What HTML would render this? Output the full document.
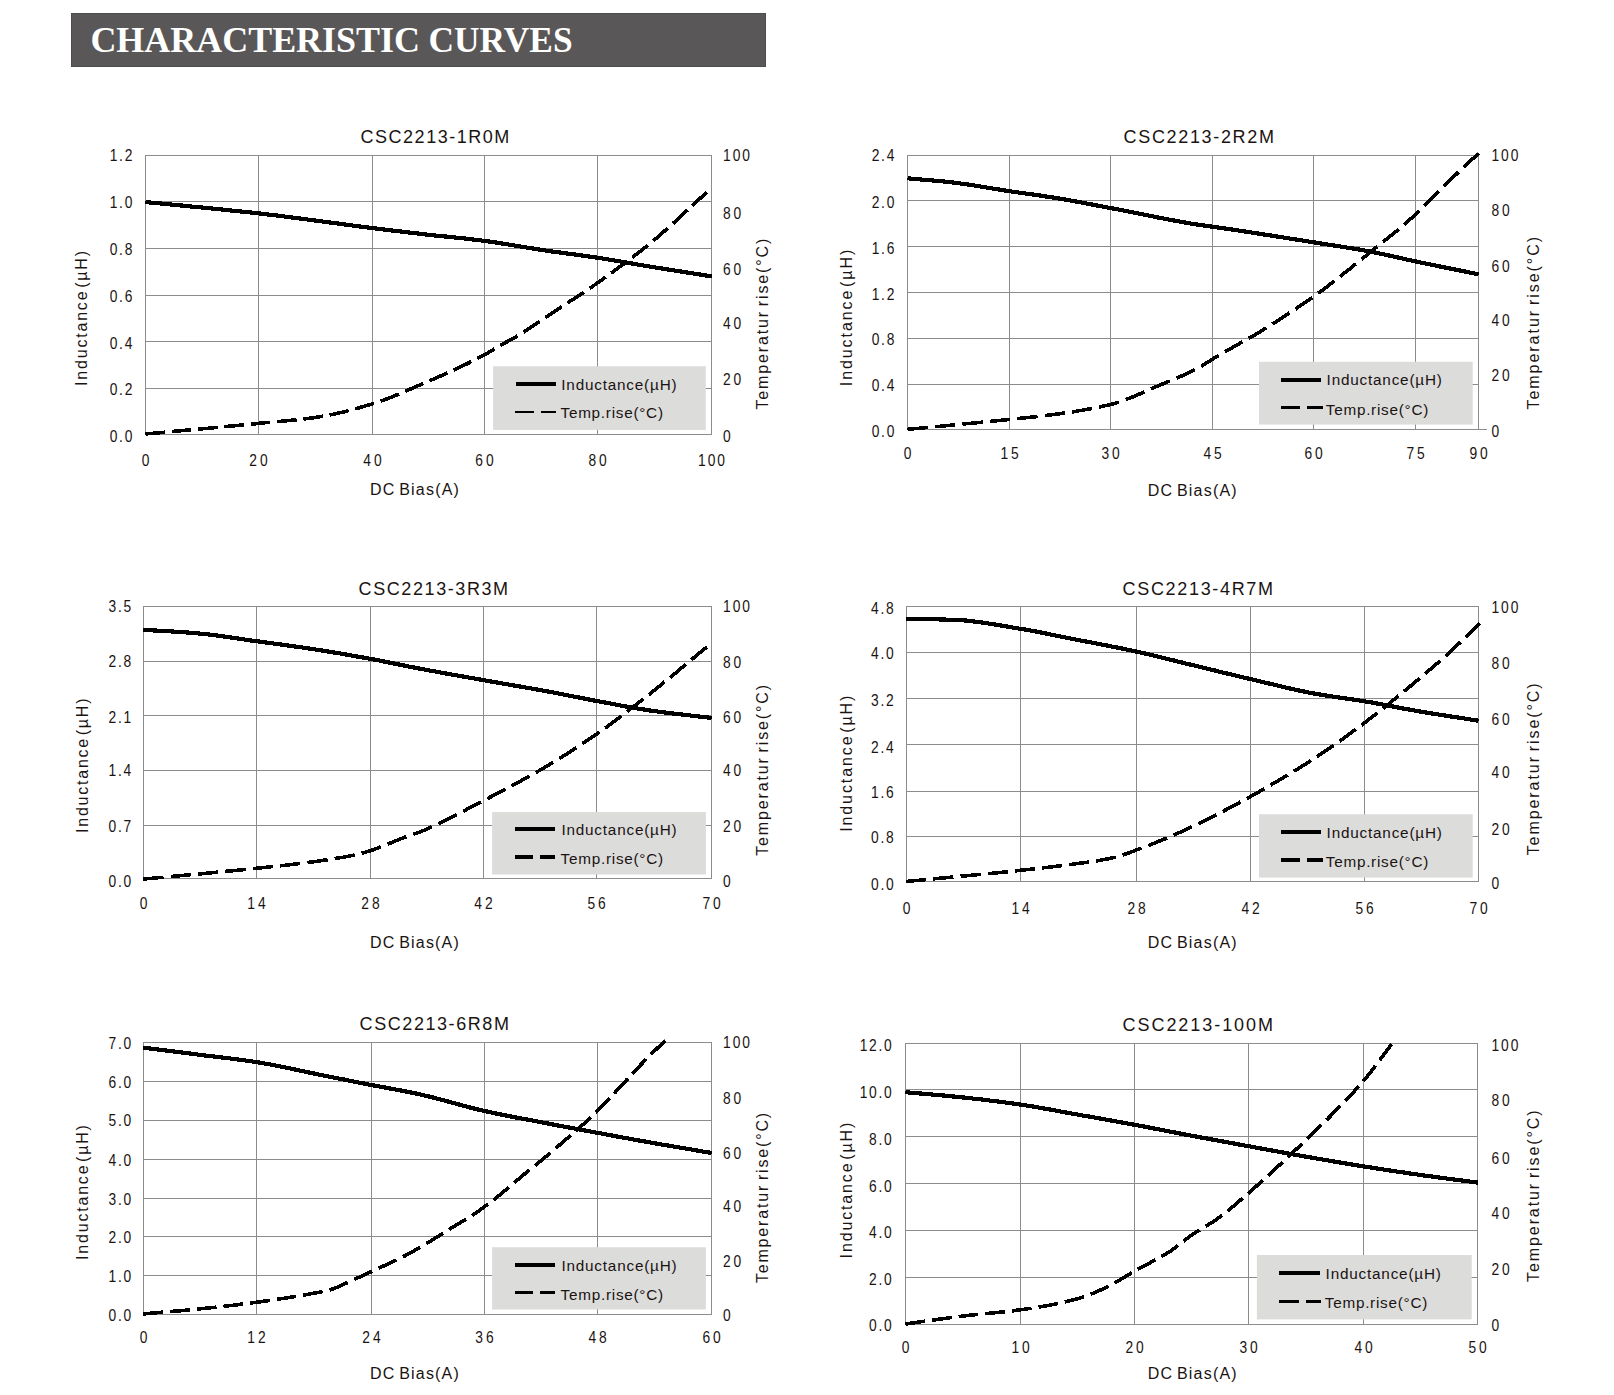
<!DOCTYPE html>
<html><head><meta charset="utf-8"><title>Characteristic Curves</title>
<style>
html,body{margin:0;padding:0;background:#fff;}
body{width:1614px;height:1395px;overflow:hidden;}
svg{display:block;}
text{font-family:"Liberation Sans",sans-serif;fill:#1a1311;}
.tk{font-size:15.7px;}
.ax{font-size:16px;}
.ti{font-size:18px;}
.lg{font-size:15.3px;}
.g{stroke:#8c8c8c;stroke-width:1;shape-rendering:crispEdges;fill:none;}
.s{stroke:#000;fill:none;stroke-linejoin:round;shape-rendering:crispEdges;}
.hd{font-family:"Liberation Serif",serif;font-weight:bold;font-size:35.5px;fill:#fff;}
</style></head><body>
<svg width="1614" height="1395" viewBox="0 0 1614 1395">
<rect x="0" y="0" width="1614" height="1395" fill="#fff"/>
<rect x="71.5" y="13.5" width="694" height="53" fill="#595757" stroke="#4d4b4b" stroke-width="1"/>
<text class="hd" x="90.4" y="52.4" textLength="329.6" lengthAdjust="spacingAndGlyphs">CHARACTERISTIC</text>
<text class="hd" x="428.4" y="52.4" textLength="144.2" lengthAdjust="spacingAndGlyphs">CURVES</text>

<g>
<path class="g" d="M145.5 155.0V435.0M258.5 155.0V435.0M372.5 155.0V435.0M484.5 155.0V435.0M597.5 155.0V435.0M711.5 155.0V435.0M145.0 155.5H712.0M145.0 201.5H712.0M145.0 248.5H712.0M145.0 295.5H712.0M145.0 341.5H712.0M145.0 388.5H712.0M145.0 434.5H712.0"/>
<clipPath id="cp1"><rect x="142.5" y="152.5" width="572.0" height="285.0"/></clipPath>
<rect x="493.1" y="366.2" width="212.7" height="63.7" fill="#dcdcdb"/>
<g clip-path="url(#cp1)">
<path class="s" stroke-width="3.6" stroke-dasharray="19.60 6.86" d="M145.4 434.0 L149.3 433.6 L153.2 433.3 L157.1 432.9 L161.0 432.6 L164.9 432.2 L168.8 431.8 L172.7 431.5 L176.6 431.1 L180.5 430.8 L184.4 430.4 L188.3 430.0 L192.2 429.7 L196.1 429.3 L200.0 429.0 L204.0 428.6 L207.9 428.3 L211.8 427.9 L215.7 427.5 L219.6 427.2 L223.5 426.8 L227.4 426.4 L231.3 426.1 L235.2 425.7 L239.1 425.3 L243.0 424.9 L246.9 424.6 L250.8 424.2 L254.7 423.8 L258.6 423.4 L262.5 423.0 L266.3 422.6 L270.2 422.3 L274.1 421.9 L278.0 421.6 L281.8 421.2 L285.7 420.8 L289.6 420.5 L293.5 420.1 L297.3 419.6 L301.2 419.2 L305.1 418.8 L309.0 418.3 L312.8 417.8 L316.7 417.2 L320.6 416.6 L324.6 415.9 L328.6 415.2 L332.5 414.4 L336.4 413.5 L340.4 412.6 L344.4 411.7 L348.3 410.7 L352.2 409.6 L356.2 408.6 L360.1 407.5 L364.1 406.3 L368.1 405.2 L372.0 404.0 L376.0 402.7 L380.0 401.4 L384.0 400.0 L388.0 398.4 L392.0 396.9 L396.0 395.2 L400.0 393.5 L404.0 391.8 L408.0 390.1 L412.0 388.4 L416.0 386.6 L420.0 384.9 L423.8 383.3 L427.6 381.6 L431.4 380.0 L435.2 378.4 L439.0 376.7 L442.8 375.0 L446.6 373.3 L450.4 371.6 L454.1 369.9 L457.9 368.1 L461.7 366.3 L465.5 364.5 L469.3 362.6 L473.1 360.7 L476.9 358.8 L480.7 356.8 L484.5 354.8 L488.2 352.7 L492.0 350.4 L495.8 348.0 L499.5 345.8 L503.2 343.7 L506.9 341.8 L510.7 339.8 L514.4 337.7 L517.9 335.6 L521.4 333.4 L524.9 331.2 L528.5 328.9 L532.0 326.6 L535.5 324.3 L539.0 322.0 L542.9 319.4 L546.8 316.8 L550.7 314.1 L554.5 311.5 L558.4 308.8 L562.3 306.2 L566.2 303.6 L570.0 301.2 L573.7 298.9 L577.5 296.5 L581.2 294.1 L584.4 292.0 L587.6 289.8 L590.9 287.5 L594.1 285.3 L597.3 283.0 L601.3 280.2 L605.2 277.4 L609.2 274.5 L613.1 271.7 L617.1 268.8 L621.0 265.9 L625.0 263.0 L628.9 260.0 L632.9 257.0 L636.8 254.0 L640.8 250.9 L644.7 247.8 L648.7 244.6 L652.6 241.4 L656.5 238.1 L660.3 234.8 L664.2 231.3 L668.1 227.9 L672.0 224.4 L675.9 220.8 L679.7 217.2 L683.6 213.6 L687.5 210.0 L691.4 206.4 L695.3 202.8 L699.1 199.3 L703.0 195.7 L706.9 192.2"/>
<path class="s" stroke-width="4.2" d="M145.4 202.0 L149.3 202.4 L153.2 202.8 L157.1 203.2 L161.0 203.5 L164.9 203.9 L168.8 204.3 L172.7 204.7 L176.6 205.1 L180.5 205.4 L184.4 205.8 L188.3 206.2 L192.2 206.6 L196.1 207.0 L200.0 207.3 L204.0 207.7 L207.9 208.1 L211.8 208.5 L215.7 208.9 L219.6 209.3 L223.5 209.7 L227.4 210.1 L231.3 210.5 L235.2 210.9 L239.1 211.3 L243.0 211.7 L246.9 212.1 L250.8 212.5 L254.7 213.0 L258.6 213.4 L262.5 213.8 L266.4 214.3 L270.3 214.8 L274.2 215.2 L278.2 215.7 L282.1 216.2 L286.0 216.7 L289.9 217.2 L293.8 217.7 L297.7 218.2 L301.6 218.7 L305.5 219.2 L309.4 219.8 L313.3 220.3 L317.3 220.8 L321.2 221.3 L325.1 221.9 L329.0 222.4 L332.9 222.9 L336.8 223.4 L340.7 223.9 L344.6 224.5 L348.5 225.0 L352.4 225.5 L356.4 226.0 L360.3 226.5 L364.2 227.0 L368.1 227.5 L372.0 228.0 L376.0 228.5 L380.0 229.0 L384.0 229.5 L388.0 230.0 L392.0 230.5 L396.0 231.0 L400.0 231.4 L404.0 231.9 L408.0 232.4 L412.0 232.9 L416.0 233.3 L420.0 233.8 L423.8 234.2 L427.6 234.7 L431.4 235.1 L435.2 235.5 L439.0 235.9 L442.8 236.3 L446.6 236.6 L450.4 237.0 L454.1 237.4 L457.9 237.8 L461.7 238.2 L465.5 238.6 L469.3 239.1 L473.1 239.5 L476.9 240.0 L480.7 240.4 L484.5 240.9 L488.3 241.4 L492.0 241.9 L495.8 242.5 L499.6 243.1 L503.3 243.7 L507.1 244.3 L510.8 244.9 L514.6 245.5 L518.4 246.1 L522.1 246.8 L525.9 247.4 L529.7 248.0 L533.4 248.6 L537.2 249.2 L540.9 249.8 L544.7 250.4 L548.5 250.9 L552.2 251.5 L556.0 252.0 L559.7 252.5 L563.5 253.0 L567.2 253.5 L571.0 254.0 L574.8 254.5 L578.5 255.0 L582.3 255.5 L586.0 256.1 L589.8 256.6 L593.5 257.1 L597.3 257.7 L601.3 258.3 L605.2 258.9 L609.2 259.6 L613.1 260.3 L617.1 260.9 L621.0 261.6 L625.0 262.3 L628.9 263.0 L632.9 263.7 L636.8 264.4 L640.8 265.1 L644.7 265.7 L648.7 266.4 L652.6 267.0 L656.6 267.7 L660.5 268.3 L664.5 268.9 L668.4 269.6 L672.3 270.2 L676.3 270.8 L680.2 271.4 L684.1 272.1 L688.1 272.7 L692.0 273.3 L696.0 273.9 L699.9 274.5 L703.8 275.2 L707.8 275.8 L711.7 276.4"/>
</g>
<path class="s" stroke-width="4.0" d="M516.0 384.0H556.0"/>
<path class="s" stroke-width="2.0" d="M515.0 412.0H534.0M541.0 412.0H556.0"/>
<text class="lg" x="561.3" y="390.2" textLength="115.3" lengthAdjust="spacing">Inductance(µH)</text>
<text class="lg" x="560.5" y="418.0" textLength="102.5" lengthAdjust="spacing">Temp.rise(°C)</text>
<text class="tk" style="letter-spacing:1.93px" text-anchor="end" transform="translate(134.0 161.3) scale(0.88 1)">1.2</text>
<text class="tk" style="letter-spacing:1.93px" text-anchor="end" transform="translate(134.0 208.1) scale(0.88 1)">1.0</text>
<text class="tk" style="letter-spacing:1.93px" text-anchor="end" transform="translate(134.0 254.9) scale(0.88 1)">0.8</text>
<text class="tk" style="letter-spacing:1.93px" text-anchor="end" transform="translate(134.0 301.7) scale(0.88 1)">0.6</text>
<text class="tk" style="letter-spacing:1.93px" text-anchor="end" transform="translate(134.0 348.5) scale(0.88 1)">0.4</text>
<text class="tk" style="letter-spacing:1.93px" text-anchor="end" transform="translate(134.0 395.3) scale(0.88 1)">0.2</text>
<text class="tk" style="letter-spacing:1.93px" text-anchor="end" transform="translate(134.0 442.0) scale(0.88 1)">0.0</text>
<text class="tk" style="letter-spacing:2.27px" text-anchor="start" transform="translate(723.0 161.2) scale(0.88 1)">100</text>
<text class="tk" style="letter-spacing:3.30px" text-anchor="start" transform="translate(723.0 218.6) scale(0.88 1)">80</text>
<text class="tk" style="letter-spacing:3.30px" text-anchor="start" transform="translate(723.0 274.5) scale(0.88 1)">60</text>
<text class="tk" style="letter-spacing:3.30px" text-anchor="start" transform="translate(723.0 329.4) scale(0.88 1)">40</text>
<text class="tk" style="letter-spacing:3.30px" text-anchor="start" transform="translate(723.0 385.4) scale(0.88 1)">20</text>
<text class="tk" style="letter-spacing:0.00px" text-anchor="start" transform="translate(723.0 442.0) scale(0.88 1)">0</text>
<text class="tk" style="letter-spacing:0.00px" text-anchor="middle" transform="translate(145.5 465.5) scale(0.88 1)">0</text>
<text class="tk" style="letter-spacing:3.30px" text-anchor="middle" transform="translate(259.9 465.5) scale(0.88 1)">20</text>
<text class="tk" style="letter-spacing:3.30px" text-anchor="middle" transform="translate(373.9 465.5) scale(0.88 1)">40</text>
<text class="tk" style="letter-spacing:3.30px" text-anchor="middle" transform="translate(485.9 465.5) scale(0.88 1)">60</text>
<text class="tk" style="letter-spacing:3.30px" text-anchor="middle" transform="translate(599.0 465.5) scale(0.88 1)">80</text>
<text class="tk" style="letter-spacing:2.27px" text-anchor="middle" transform="translate(712.5 465.5) scale(0.88 1)">100</text>
<text class="ti" x="360.5" y="142.9" textLength="148.8" lengthAdjust="spacing">CSC2213-1R0M</text>
<text class="ax" style="word-spacing:-2px" x="369.9" y="494.8" textLength="89.0" lengthAdjust="spacing">DC Bias(A)</text>
<text class="ax" style="word-spacing:-4.5px" transform="translate(87.0 386.0) rotate(-90)" textLength="135.0" lengthAdjust="spacing">Inductance (µH)</text>
<text class="ax" style="word-spacing:-2.5px" transform="translate(768.0 409.5) rotate(-90)" textLength="170.8" lengthAdjust="spacing">Temperatur rise(°C)</text>
</g>
<g>
<path class="g" d="M907.5 155.0V430.0M1009.5 155.0V430.0M1110.5 155.0V430.0M1212.5 155.0V430.0M1313.5 155.0V430.0M1415.5 155.0V430.0M1478.5 155.0V430.0M907.0 155.5H1479.0M907.0 200.5H1479.0M907.0 246.5H1479.0M907.0 292.5H1479.0M907.0 338.5H1479.0M907.0 384.5H1479.0M907.0 429.5H1479.0M1478.5 429.5H1487.0"/>
<clipPath id="cp2"><rect x="904.5" y="152.5" width="577.0" height="280.0"/></clipPath>
<rect x="1259.0" y="361.8" width="213.7" height="62.8" fill="#dcdcdb"/>
<g clip-path="url(#cp2)">
<path class="s" stroke-width="3.6" stroke-dasharray="20.42 7.15" d="M907.5 429.4 L911.4 429.0 L915.4 428.6 L919.3 428.3 L923.2 427.9 L927.1 427.5 L931.1 427.1 L935.0 426.7 L938.9 426.4 L942.8 426.0 L946.8 425.6 L950.7 425.2 L954.6 424.9 L958.5 424.5 L962.5 424.1 L966.4 423.7 L970.3 423.4 L974.3 423.0 L978.2 422.6 L982.1 422.2 L986.0 421.8 L990.0 421.4 L993.9 421.0 L997.8 420.6 L1001.7 420.2 L1005.7 419.8 L1009.6 419.4 L1013.5 419.0 L1017.3 418.6 L1021.2 418.2 L1025.0 417.8 L1028.9 417.4 L1032.8 417.0 L1036.6 416.6 L1040.5 416.1 L1044.3 415.7 L1048.2 415.2 L1052.0 414.7 L1055.9 414.2 L1059.8 413.7 L1063.7 413.1 L1067.6 412.6 L1071.5 412.0 L1075.4 411.4 L1079.3 410.7 L1083.2 410.1 L1087.0 409.4 L1090.9 408.7 L1094.8 407.9 L1098.7 407.2 L1102.6 406.3 L1106.5 405.4 L1110.4 404.5 L1114.2 403.5 L1118.0 402.3 L1121.8 401.1 L1125.6 399.7 L1129.4 398.2 L1133.2 396.7 L1137.1 395.1 L1140.9 393.4 L1144.7 391.8 L1148.5 390.1 L1152.3 388.4 L1156.1 386.7 L1159.9 385.1 L1163.5 383.6 L1167.2 382.1 L1170.8 380.5 L1174.5 379.0 L1178.1 377.5 L1181.8 375.9 L1185.4 374.2 L1189.1 372.5 L1192.7 370.8 L1196.4 368.9 L1200.0 367.0 L1203.1 365.2 L1206.2 363.2 L1209.4 361.1 L1212.5 359.1 L1216.4 356.8 L1220.2 354.5 L1224.1 352.2 L1228.0 350.0 L1231.8 347.9 L1235.7 345.7 L1239.6 343.5 L1243.5 341.3 L1247.3 339.1 L1251.2 336.9 L1255.1 334.7 L1258.9 332.4 L1262.8 330.0 L1266.7 327.6 L1270.6 325.2 L1274.5 322.7 L1278.4 320.2 L1282.3 317.7 L1286.2 315.2 L1290.1 312.6 L1294.0 310.1 L1297.9 307.4 L1301.8 304.8 L1305.7 302.1 L1309.6 299.4 L1313.5 296.6 L1317.3 293.8 L1321.2 291.0 L1325.0 288.2 L1328.8 285.3 L1332.6 282.3 L1336.5 279.3 L1340.3 276.3 L1344.1 273.3 L1347.9 270.3 L1351.8 267.2 L1355.6 264.1 L1359.4 261.0 L1363.2 257.9 L1367.1 254.8 L1370.9 251.7 L1374.6 248.7 L1378.3 245.7 L1382.0 242.7 L1385.7 239.8 L1389.4 236.7 L1393.2 233.7 L1396.9 230.7 L1400.6 227.6 L1404.3 224.4 L1408.0 221.2 L1411.7 217.9 L1415.4 214.6 L1419.2 211.0 L1423.1 207.3 L1426.9 203.5 L1430.7 199.6 L1434.6 195.7 L1438.4 191.8 L1442.2 187.9 L1446.1 184.1 L1449.9 180.3 L1453.5 176.9 L1457.1 173.4 L1460.7 170.1 L1464.2 166.7 L1467.8 163.4 L1471.4 160.0 L1475.0 156.7 L1478.6 153.3"/>
<path class="s" stroke-width="4.2" d="M907.5 178.3 L911.2 178.6 L914.9 179.0 L918.6 179.3 L922.3 179.6 L926.0 179.9 L929.8 180.2 L933.5 180.6 L937.2 180.9 L940.9 181.2 L944.6 181.6 L948.3 182.0 L952.0 182.4 L955.8 182.9 L959.7 183.4 L963.5 183.9 L967.4 184.4 L971.2 185.0 L975.0 185.6 L978.9 186.2 L982.7 186.9 L986.6 187.5 L990.4 188.1 L994.2 188.8 L998.1 189.4 L1001.9 190.0 L1005.8 190.6 L1009.6 191.2 L1013.5 191.8 L1017.3 192.3 L1021.2 192.9 L1025.0 193.4 L1028.9 194.0 L1032.8 194.5 L1036.6 195.1 L1040.5 195.6 L1044.3 196.2 L1048.2 196.8 L1052.0 197.4 L1055.9 198.0 L1059.8 198.6 L1063.7 199.3 L1067.6 200.0 L1071.5 200.7 L1075.4 201.4 L1079.3 202.1 L1083.2 202.8 L1087.0 203.6 L1090.9 204.3 L1094.8 205.1 L1098.7 205.8 L1102.6 206.5 L1106.5 207.3 L1110.4 208.0 L1114.3 208.7 L1118.2 209.5 L1122.1 210.2 L1126.0 211.0 L1129.9 211.8 L1133.8 212.6 L1137.7 213.3 L1141.6 214.1 L1145.5 214.9 L1149.4 215.7 L1153.3 216.5 L1157.1 217.3 L1161.0 218.0 L1164.9 218.8 L1168.8 219.6 L1172.7 220.3 L1176.6 221.0 L1180.5 221.7 L1184.4 222.4 L1188.3 223.1 L1192.2 223.8 L1196.1 224.4 L1200.0 225.0 L1203.1 225.4 L1206.2 225.9 L1209.4 226.3 L1212.5 226.7 L1216.4 227.3 L1220.3 227.8 L1224.2 228.4 L1228.0 229.0 L1231.9 229.5 L1235.8 230.1 L1239.7 230.7 L1243.6 231.3 L1247.5 231.9 L1251.3 232.5 L1255.2 233.1 L1259.1 233.7 L1263.0 234.3 L1266.9 234.9 L1270.8 235.5 L1274.7 236.1 L1278.5 236.7 L1282.4 237.3 L1286.3 238.0 L1290.2 238.6 L1294.1 239.2 L1298.0 239.8 L1301.8 240.4 L1305.7 241.1 L1309.6 241.7 L1313.5 242.3 L1317.3 242.9 L1321.2 243.5 L1325.0 244.1 L1328.8 244.7 L1332.6 245.3 L1336.5 245.9 L1340.3 246.5 L1344.1 247.1 L1347.9 247.7 L1351.8 248.3 L1355.6 249.0 L1359.4 249.6 L1363.2 250.3 L1367.1 251.0 L1370.9 251.7 L1374.6 252.4 L1378.3 253.2 L1382.0 254.0 L1385.7 254.8 L1389.4 255.6 L1393.2 256.4 L1396.9 257.3 L1400.6 258.1 L1404.3 259.0 L1408.0 259.8 L1411.7 260.6 L1415.4 261.4 L1419.4 262.2 L1423.3 263.1 L1427.2 263.9 L1431.2 264.7 L1435.2 265.5 L1439.1 266.3 L1443.0 267.1 L1447.0 267.9 L1451.0 268.7 L1454.9 269.5 L1458.8 270.3 L1462.8 271.1 L1466.8 271.9 L1470.7 272.7 L1474.6 273.5 L1478.6 274.3"/>
</g>
<path class="s" stroke-width="3.7" d="M1281.0 379.9H1321.0"/>
<path class="s" stroke-width="3.5" d="M1281.0 407.4H1300.2M1307.0 407.4H1323.0"/>
<text class="lg" x="1326.6" y="385.1" textLength="115.3" lengthAdjust="spacing">Inductance(µH)</text>
<text class="lg" x="1325.8" y="414.9" textLength="102.5" lengthAdjust="spacing">Temp.rise(°C)</text>
<text class="tk" style="letter-spacing:1.93px" text-anchor="end" transform="translate(896.0 161.2) scale(0.88 1)">2.4</text>
<text class="tk" style="letter-spacing:1.93px" text-anchor="end" transform="translate(896.0 208.2) scale(0.88 1)">2.0</text>
<text class="tk" style="letter-spacing:1.93px" text-anchor="end" transform="translate(896.0 253.8) scale(0.88 1)">1.6</text>
<text class="tk" style="letter-spacing:1.93px" text-anchor="end" transform="translate(896.0 300.1) scale(0.88 1)">1.2</text>
<text class="tk" style="letter-spacing:1.93px" text-anchor="end" transform="translate(896.0 345.2) scale(0.88 1)">0.8</text>
<text class="tk" style="letter-spacing:1.93px" text-anchor="end" transform="translate(896.0 390.5) scale(0.88 1)">0.4</text>
<text class="tk" style="letter-spacing:1.93px" text-anchor="end" transform="translate(896.0 437.3) scale(0.88 1)">0.0</text>
<text class="tk" style="letter-spacing:2.27px" text-anchor="start" transform="translate(1491.4 161.2) scale(0.88 1)">100</text>
<text class="tk" style="letter-spacing:3.30px" text-anchor="start" transform="translate(1491.4 216.1) scale(0.88 1)">80</text>
<text class="tk" style="letter-spacing:3.30px" text-anchor="start" transform="translate(1491.4 272.1) scale(0.88 1)">60</text>
<text class="tk" style="letter-spacing:3.30px" text-anchor="start" transform="translate(1491.4 326.2) scale(0.88 1)">40</text>
<text class="tk" style="letter-spacing:3.30px" text-anchor="start" transform="translate(1491.4 381.3) scale(0.88 1)">20</text>
<text class="tk" style="letter-spacing:0.00px" text-anchor="start" transform="translate(1491.4 437.3) scale(0.88 1)">0</text>
<text class="tk" style="letter-spacing:0.00px" text-anchor="middle" transform="translate(907.5 458.5) scale(0.88 1)">0</text>
<text class="tk" style="letter-spacing:3.30px" text-anchor="middle" transform="translate(1011.0 458.5) scale(0.88 1)">15</text>
<text class="tk" style="letter-spacing:3.30px" text-anchor="middle" transform="translate(1112.0 458.5) scale(0.88 1)">30</text>
<text class="tk" style="letter-spacing:3.30px" text-anchor="middle" transform="translate(1214.0 458.5) scale(0.88 1)">45</text>
<text class="tk" style="letter-spacing:3.30px" text-anchor="middle" transform="translate(1315.0 458.5) scale(0.88 1)">60</text>
<text class="tk" style="letter-spacing:3.30px" text-anchor="middle" transform="translate(1417.0 458.5) scale(0.88 1)">75</text>
<text class="tk" style="letter-spacing:3.30px" text-anchor="middle" transform="translate(1480.0 458.5) scale(0.88 1)">90</text>
<text class="ti" x="1123.6" y="143.3" textLength="150.3" lengthAdjust="spacing">CSC2213-2R2M</text>
<text class="ax" style="word-spacing:-2px" x="1147.8" y="495.6" textLength="88.8" lengthAdjust="spacing">DC Bias(A)</text>
<text class="ax" style="word-spacing:-4.5px" transform="translate(852.4 386.2) rotate(-90)" textLength="136.5" lengthAdjust="spacing">Inductance (µH)</text>
<text class="ax" style="word-spacing:-2.5px" transform="translate(1538.8 409.5) rotate(-90)" textLength="172.6" lengthAdjust="spacing">Temperatur rise(°C)</text>
</g>
<g>
<path class="g" d="M143.5 606.0V879.0M256.5 606.0V879.0M370.5 606.0V879.0M483.5 606.0V879.0M596.5 606.0V879.0M711.5 606.0V879.0M143.0 606.5H712.0M143.0 661.5H712.0M143.0 715.5H712.0M143.0 770.5H712.0M143.0 825.5H712.0M143.0 878.5H712.0"/>
<clipPath id="cp3"><rect x="140.5" y="603.5" width="574.0" height="278.0"/></clipPath>
<rect x="492.1" y="812.1" width="213.8" height="62.4" fill="#dcdcdb"/>
<g clip-path="url(#cp3)">
<path class="s" stroke-width="3.6" stroke-dasharray="20.36 7.13" d="M143.3 879.1 L147.2 878.7 L151.1 878.4 L155.0 878.0 L158.9 877.6 L162.8 877.3 L166.7 876.9 L170.6 876.5 L174.5 876.2 L178.4 875.8 L182.3 875.5 L186.2 875.1 L190.1 874.7 L194.0 874.4 L197.9 874.0 L201.8 873.7 L205.7 873.3 L209.6 872.9 L213.5 872.6 L217.4 872.2 L221.3 871.8 L225.2 871.4 L229.1 871.1 L233.0 870.7 L236.9 870.3 L240.8 869.9 L244.7 869.5 L248.6 869.1 L252.5 868.7 L256.4 868.3 L260.3 867.9 L264.3 867.5 L268.2 867.1 L272.2 866.6 L276.1 866.2 L280.1 865.8 L284.0 865.4 L288.0 864.9 L291.9 864.5 L295.9 864.0 L299.8 863.5 L303.8 863.0 L307.8 862.5 L311.7 862.0 L315.7 861.5 L319.6 860.9 L323.6 860.3 L327.6 859.8 L331.6 859.1 L335.5 858.5 L339.5 857.8 L343.5 857.2 L347.5 856.4 L351.4 855.6 L355.4 854.8 L359.2 853.9 L363.0 852.9 L366.8 851.8 L370.6 850.6 L374.5 849.3 L378.3 847.9 L382.2 846.4 L386.0 844.9 L389.9 843.3 L393.7 841.7 L397.6 840.1 L401.4 838.6 L405.3 837.1 L409.0 835.8 L412.6 834.6 L416.3 833.3 L420.0 831.9 L424.0 830.3 L427.9 828.6 L431.9 826.8 L435.9 825.0 L439.8 823.1 L443.8 821.2 L447.7 819.2 L451.7 817.2 L455.7 815.2 L459.6 813.2 L463.6 811.1 L467.5 809.0 L471.5 806.9 L475.5 804.8 L479.4 802.8 L483.4 800.7 L487.2 798.7 L491.1 796.7 L494.9 794.7 L498.7 792.7 L502.6 790.7 L506.4 788.7 L510.2 786.7 L514.0 784.6 L517.9 782.5 L521.7 780.4 L525.5 778.3 L529.4 776.2 L533.2 774.0 L537.0 771.9 L540.9 769.6 L544.7 767.4 L548.7 765.0 L552.7 762.6 L556.7 760.2 L560.6 757.8 L564.6 755.3 L568.6 752.7 L572.6 750.2 L576.6 747.6 L580.6 745.0 L584.5 742.3 L588.5 739.7 L592.5 736.9 L596.5 734.2 L600.2 731.6 L604.0 728.9 L607.7 726.2 L611.4 723.5 L615.1 720.7 L618.9 717.9 L622.6 715.1 L626.3 712.2 L630.1 709.3 L633.8 706.4 L637.5 703.5 L641.2 700.6 L645.0 697.6 L648.7 694.7 L652.6 691.6 L656.5 688.5 L660.3 685.4 L664.2 682.2 L668.1 679.1 L672.0 675.9 L675.9 672.7 L679.7 669.4 L683.6 666.2 L687.5 663.0 L691.4 659.8 L695.3 656.5 L699.1 653.3 L703.0 650.1 L706.9 646.9"/>
<path class="s" stroke-width="4.2" d="M143.3 629.8 L147.2 630.0 L151.0 630.3 L154.9 630.5 L158.8 630.7 L162.6 631.0 L166.5 631.2 L170.4 631.4 L174.2 631.6 L178.1 631.9 L181.9 632.1 L185.8 632.4 L189.7 632.7 L193.5 633.0 L197.4 633.3 L201.3 633.7 L205.3 634.1 L209.2 634.5 L213.1 635.0 L217.1 635.5 L221.0 636.0 L224.9 636.6 L228.9 637.2 L232.8 637.8 L236.7 638.3 L240.7 638.9 L244.6 639.5 L248.5 640.1 L252.5 640.7 L256.4 641.2 L260.3 641.7 L264.3 642.3 L268.2 642.8 L272.2 643.3 L276.1 643.9 L280.1 644.4 L284.0 644.9 L288.0 645.5 L291.9 646.0 L295.9 646.6 L299.8 647.1 L303.8 647.7 L307.8 648.3 L311.7 648.9 L315.6 649.5 L319.6 650.1 L323.5 650.7 L327.4 651.4 L331.3 652.0 L335.3 652.7 L339.2 653.3 L343.1 654.0 L347.0 654.7 L351.0 655.4 L354.9 656.1 L358.8 656.8 L362.7 657.5 L366.7 658.2 L370.6 658.9 L374.4 659.6 L378.2 660.3 L382.0 661.1 L385.8 661.8 L389.6 662.6 L393.4 663.4 L397.2 664.2 L401.0 664.9 L404.8 665.7 L408.6 666.5 L412.4 667.2 L416.2 668.0 L420.0 668.7 L424.0 669.4 L427.9 670.2 L431.9 670.9 L435.9 671.6 L439.8 672.4 L443.8 673.1 L447.7 673.8 L451.7 674.5 L455.7 675.2 L459.6 675.9 L463.6 676.6 L467.5 677.3 L471.5 678.0 L475.5 678.7 L479.4 679.4 L483.4 680.1 L487.2 680.8 L491.1 681.5 L494.9 682.1 L498.7 682.8 L502.6 683.5 L506.4 684.1 L510.2 684.8 L514.0 685.5 L517.9 686.1 L521.7 686.8 L525.5 687.5 L529.4 688.1 L533.2 688.8 L537.0 689.5 L540.9 690.2 L544.7 690.9 L548.7 691.6 L552.7 692.4 L556.7 693.2 L560.6 693.9 L564.6 694.7 L568.6 695.5 L572.6 696.3 L576.6 697.1 L580.6 697.8 L584.5 698.6 L588.5 699.4 L592.5 700.2 L596.5 700.9 L600.2 701.6 L604.0 702.3 L607.7 703.0 L611.4 703.7 L615.1 704.4 L618.9 705.2 L622.6 705.9 L626.3 706.6 L630.1 707.2 L633.8 707.9 L637.5 708.5 L641.2 709.1 L645.0 709.7 L648.7 710.3 L652.6 710.9 L656.6 711.4 L660.5 711.9 L664.5 712.4 L668.4 712.9 L672.3 713.4 L676.3 713.9 L680.2 714.3 L684.1 714.8 L688.1 715.2 L692.0 715.7 L696.0 716.1 L699.9 716.6 L703.8 717.1 L707.8 717.5 L711.7 718.0"/>
</g>
<path class="s" stroke-width="3.7" d="M514.6 828.8H555.1"/>
<path class="s" stroke-width="3.5" d="M514.6 856.8H533.3M540.2 856.8H555.1"/>
<text class="lg" x="561.4" y="834.6" textLength="115.3" lengthAdjust="spacing">Inductance(µH)</text>
<text class="lg" x="560.6" y="863.7" textLength="102.5" lengthAdjust="spacing">Temp.rise(°C)</text>
<text class="tk" style="letter-spacing:1.93px" text-anchor="end" transform="translate(132.9 612.4) scale(0.88 1)">3.5</text>
<text class="tk" style="letter-spacing:1.93px" text-anchor="end" transform="translate(132.9 667.2) scale(0.88 1)">2.8</text>
<text class="tk" style="letter-spacing:1.93px" text-anchor="end" transform="translate(132.9 723.4) scale(0.88 1)">2.1</text>
<text class="tk" style="letter-spacing:1.93px" text-anchor="end" transform="translate(132.9 776.4) scale(0.88 1)">1.4</text>
<text class="tk" style="letter-spacing:1.93px" text-anchor="end" transform="translate(132.9 831.9) scale(0.88 1)">0.7</text>
<text class="tk" style="letter-spacing:1.93px" text-anchor="end" transform="translate(132.9 886.6) scale(0.88 1)">0.0</text>
<text class="tk" style="letter-spacing:2.27px" text-anchor="start" transform="translate(723.0 612.4) scale(0.88 1)">100</text>
<text class="tk" style="letter-spacing:3.30px" text-anchor="start" transform="translate(723.0 667.8) scale(0.88 1)">80</text>
<text class="tk" style="letter-spacing:3.30px" text-anchor="start" transform="translate(723.0 722.9) scale(0.88 1)">60</text>
<text class="tk" style="letter-spacing:3.30px" text-anchor="start" transform="translate(723.0 776.4) scale(0.88 1)">40</text>
<text class="tk" style="letter-spacing:3.30px" text-anchor="start" transform="translate(723.0 831.9) scale(0.88 1)">20</text>
<text class="tk" style="letter-spacing:0.00px" text-anchor="start" transform="translate(723.0 886.6) scale(0.88 1)">0</text>
<text class="tk" style="letter-spacing:0.00px" text-anchor="middle" transform="translate(143.5 909.4) scale(0.88 1)">0</text>
<text class="tk" style="letter-spacing:3.30px" text-anchor="middle" transform="translate(257.9 909.4) scale(0.88 1)">14</text>
<text class="tk" style="letter-spacing:3.30px" text-anchor="middle" transform="translate(371.9 909.4) scale(0.88 1)">28</text>
<text class="tk" style="letter-spacing:3.30px" text-anchor="middle" transform="translate(484.9 909.4) scale(0.88 1)">42</text>
<text class="tk" style="letter-spacing:3.30px" text-anchor="middle" transform="translate(598.0 909.4) scale(0.88 1)">56</text>
<text class="tk" style="letter-spacing:3.30px" text-anchor="middle" transform="translate(713.0 909.4) scale(0.88 1)">70</text>
<text class="ti" x="358.6" y="595.3" textLength="149.5" lengthAdjust="spacing">CSC2213-3R3M</text>
<text class="ax" style="word-spacing:-2px" x="370.0" y="947.7" textLength="88.8" lengthAdjust="spacing">DC Bias(A)</text>
<text class="ax" style="word-spacing:-4.5px" transform="translate(87.5 833.0) rotate(-90)" textLength="134.5" lengthAdjust="spacing">Inductance (µH)</text>
<text class="ax" style="word-spacing:-2.5px" transform="translate(768.0 855.8) rotate(-90)" textLength="170.8" lengthAdjust="spacing">Temperatur rise(°C)</text>
</g>
<g>
<path class="g" d="M906.5 606.0V882.0M1020.5 606.0V882.0M1136.5 606.0V882.0M1250.5 606.0V882.0M1364.5 606.0V882.0M1478.5 606.0V882.0M906.0 606.5H1479.0M906.0 652.5H1479.0M906.0 698.5H1479.0M906.0 744.5H1479.0M906.0 791.5H1479.0M906.0 836.5H1479.0M906.0 881.5H1479.0"/>
<clipPath id="cp4"><rect x="903.5" y="603.5" width="578.0" height="281.0"/></clipPath>
<rect x="1259.0" y="814.2" width="213.7" height="63.4" fill="#dcdcdb"/>
<g clip-path="url(#cp4)">
<path class="s" stroke-width="3.6" stroke-dasharray="20.21 7.07" d="M906.2 881.5 L910.1 881.1 L914.1 880.7 L918.0 880.4 L922.0 880.0 L925.9 879.6 L929.8 879.2 L933.8 878.8 L937.7 878.5 L941.6 878.1 L945.6 877.7 L949.5 877.4 L953.5 877.0 L957.4 876.6 L961.3 876.2 L965.3 875.9 L969.2 875.5 L973.1 875.1 L977.1 874.7 L981.0 874.3 L985.0 874.0 L988.9 873.6 L992.8 873.2 L996.8 872.8 L1000.7 872.4 L1004.6 872.0 L1008.6 871.6 L1012.5 871.1 L1016.5 870.7 L1020.4 870.3 L1024.2 869.9 L1028.0 869.5 L1031.7 869.1 L1035.5 868.7 L1039.3 868.2 L1043.1 867.8 L1046.9 867.4 L1050.7 867.0 L1054.4 866.5 L1058.2 866.1 L1062.0 865.6 L1065.8 865.1 L1069.6 864.6 L1073.3 864.1 L1077.1 863.6 L1080.9 863.1 L1084.6 862.6 L1088.3 862.1 L1092.0 861.5 L1095.7 861.0 L1099.3 860.4 L1103.0 859.7 L1106.7 859.1 L1110.4 858.3 L1114.1 857.5 L1117.8 856.5 L1121.5 855.4 L1125.2 854.1 L1129.0 852.8 L1132.7 851.4 L1136.4 850.0 L1140.3 848.6 L1144.3 847.1 L1148.2 845.6 L1152.2 844.0 L1156.1 842.4 L1160.1 840.8 L1164.0 839.2 L1167.7 837.6 L1171.4 836.1 L1175.1 834.4 L1178.9 832.8 L1182.6 831.1 L1186.3 829.4 L1190.0 827.7 L1193.8 825.9 L1197.6 824.1 L1201.3 822.2 L1205.1 820.4 L1208.9 818.5 L1212.7 816.6 L1216.5 814.7 L1220.2 812.7 L1224.0 810.8 L1227.8 808.8 L1231.6 806.8 L1235.4 804.7 L1239.2 802.7 L1242.9 800.7 L1246.7 798.6 L1250.5 796.5 L1254.3 794.4 L1258.1 792.3 L1261.8 790.2 L1265.6 788.0 L1269.4 785.8 L1273.2 783.6 L1276.9 781.4 L1280.7 779.2 L1284.5 777.0 L1288.3 774.7 L1292.0 772.4 L1295.8 770.1 L1299.6 767.7 L1303.4 765.4 L1307.1 763.0 L1310.9 760.5 L1314.7 758.1 L1318.5 755.6 L1322.4 753.0 L1326.2 750.4 L1330.1 747.8 L1333.9 745.1 L1337.7 742.4 L1341.6 739.7 L1345.4 736.9 L1349.2 734.1 L1353.1 731.3 L1356.9 728.4 L1360.8 725.6 L1364.6 722.7 L1368.5 719.8 L1372.3 716.8 L1376.2 713.8 L1380.1 710.8 L1383.9 707.7 L1387.8 704.6 L1391.7 701.5 L1395.5 698.3 L1399.4 695.2 L1403.2 692.0 L1407.1 688.8 L1411.0 685.6 L1414.8 682.3 L1418.7 679.1 L1422.6 675.8 L1426.5 672.5 L1430.4 669.2 L1434.3 665.9 L1438.2 662.5 L1442.1 659.1 L1446.0 655.6 L1449.9 652.1 L1453.7 648.6 L1457.4 645.0 L1461.2 641.4 L1465.0 637.7 L1468.7 634.0 L1472.5 630.3 L1476.2 626.6 L1480.0 622.9"/>
<path class="s" stroke-width="4.2" d="M906.2 618.8 L910.2 618.9 L914.2 619.0 L918.2 619.0 L922.1 619.1 L926.1 619.1 L930.1 619.2 L934.1 619.3 L938.1 619.4 L942.0 619.5 L946.0 619.6 L950.0 619.7 L954.0 619.8 L957.9 620.0 L961.8 620.2 L965.7 620.5 L969.6 620.9 L973.5 621.4 L977.4 621.9 L981.3 622.4 L985.2 623.0 L989.2 623.6 L993.1 624.2 L997.0 624.8 L1000.9 625.5 L1004.8 626.2 L1008.7 626.8 L1012.6 627.5 L1016.5 628.2 L1020.4 628.8 L1024.3 629.4 L1028.1 630.1 L1032.0 630.8 L1035.8 631.5 L1039.7 632.3 L1043.5 633.0 L1047.4 633.8 L1051.2 634.6 L1055.1 635.4 L1058.9 636.2 L1062.8 637.0 L1066.6 637.7 L1070.5 638.5 L1074.4 639.3 L1078.3 640.0 L1082.1 640.8 L1086.0 641.5 L1089.9 642.2 L1093.8 643.0 L1097.6 643.7 L1101.5 644.5 L1105.4 645.2 L1109.3 646.0 L1113.1 646.8 L1117.0 647.5 L1120.9 648.3 L1124.8 649.1 L1128.6 649.9 L1132.5 650.8 L1136.4 651.6 L1140.2 652.4 L1144.1 653.3 L1147.9 654.2 L1151.7 655.1 L1155.5 656.0 L1159.4 657.0 L1163.2 657.9 L1167.0 658.8 L1170.9 659.8 L1174.7 660.7 L1178.5 661.7 L1182.3 662.6 L1186.2 663.6 L1190.0 664.5 L1193.8 665.4 L1197.6 666.3 L1201.3 667.2 L1205.1 668.2 L1208.9 669.1 L1212.7 670.0 L1216.5 670.9 L1220.2 671.9 L1224.0 672.8 L1227.8 673.7 L1231.6 674.6 L1235.4 675.5 L1239.2 676.4 L1242.9 677.3 L1246.7 678.2 L1250.5 679.1 L1254.3 680.0 L1258.1 680.9 L1261.8 681.8 L1265.6 682.7 L1269.4 683.6 L1273.2 684.5 L1276.9 685.4 L1280.7 686.3 L1284.5 687.2 L1288.3 688.1 L1292.0 688.9 L1295.8 689.8 L1299.6 690.6 L1303.4 691.4 L1307.1 692.2 L1310.9 692.9 L1314.7 693.6 L1318.5 694.3 L1322.4 694.9 L1326.2 695.5 L1330.1 696.1 L1333.9 696.7 L1337.7 697.3 L1341.6 697.8 L1345.4 698.4 L1349.2 698.9 L1353.1 699.5 L1356.9 700.1 L1360.8 700.7 L1364.6 701.3 L1368.5 702.0 L1372.3 702.6 L1376.2 703.4 L1380.1 704.1 L1383.9 704.8 L1387.8 705.5 L1391.7 706.3 L1395.5 707.0 L1399.4 707.8 L1403.2 708.5 L1407.1 709.2 L1411.0 709.9 L1414.8 710.6 L1418.7 711.3 L1422.7 712.0 L1426.7 712.6 L1430.7 713.3 L1434.7 713.9 L1438.7 714.5 L1442.7 715.2 L1446.7 715.8 L1450.6 716.4 L1454.6 717.0 L1458.6 717.6 L1462.6 718.2 L1466.6 718.8 L1470.6 719.5 L1474.6 720.1 L1478.6 720.7"/>
</g>
<path class="s" stroke-width="3.7" d="M1281.0 832.1H1321.0"/>
<path class="s" stroke-width="3.5" d="M1281.0 860.0H1300.2M1307.0 860.0H1323.0"/>
<text class="lg" x="1326.6" y="837.7" textLength="115.3" lengthAdjust="spacing">Inductance(µH)</text>
<text class="lg" x="1325.8" y="866.8" textLength="102.5" lengthAdjust="spacing">Temp.rise(°C)</text>
<text class="tk" style="letter-spacing:1.93px" text-anchor="end" transform="translate(895.3 614.1) scale(0.88 1)">4.8</text>
<text class="tk" style="letter-spacing:1.93px" text-anchor="end" transform="translate(895.3 659.4) scale(0.88 1)">4.0</text>
<text class="tk" style="letter-spacing:1.93px" text-anchor="end" transform="translate(895.3 705.9) scale(0.88 1)">3.2</text>
<text class="tk" style="letter-spacing:1.93px" text-anchor="end" transform="translate(895.3 753.0) scale(0.88 1)">2.4</text>
<text class="tk" style="letter-spacing:1.93px" text-anchor="end" transform="translate(895.3 798.1) scale(0.88 1)">1.6</text>
<text class="tk" style="letter-spacing:1.93px" text-anchor="end" transform="translate(895.3 842.8) scale(0.88 1)">0.8</text>
<text class="tk" style="letter-spacing:1.93px" text-anchor="end" transform="translate(895.3 889.5) scale(0.88 1)">0.0</text>
<text class="tk" style="letter-spacing:2.27px" text-anchor="start" transform="translate(1491.4 613.1) scale(0.88 1)">100</text>
<text class="tk" style="letter-spacing:3.30px" text-anchor="start" transform="translate(1491.4 668.5) scale(0.88 1)">80</text>
<text class="tk" style="letter-spacing:3.30px" text-anchor="start" transform="translate(1491.4 724.5) scale(0.88 1)">60</text>
<text class="tk" style="letter-spacing:3.30px" text-anchor="start" transform="translate(1491.4 778.1) scale(0.88 1)">40</text>
<text class="tk" style="letter-spacing:3.30px" text-anchor="start" transform="translate(1491.4 834.8) scale(0.88 1)">20</text>
<text class="tk" style="letter-spacing:0.00px" text-anchor="start" transform="translate(1491.4 889.0) scale(0.88 1)">0</text>
<text class="tk" style="letter-spacing:0.00px" text-anchor="middle" transform="translate(906.5 913.5) scale(0.88 1)">0</text>
<text class="tk" style="letter-spacing:3.30px" text-anchor="middle" transform="translate(1022.0 913.5) scale(0.88 1)">14</text>
<text class="tk" style="letter-spacing:3.30px" text-anchor="middle" transform="translate(1138.0 913.5) scale(0.88 1)">28</text>
<text class="tk" style="letter-spacing:3.30px" text-anchor="middle" transform="translate(1252.0 913.5) scale(0.88 1)">42</text>
<text class="tk" style="letter-spacing:3.30px" text-anchor="middle" transform="translate(1366.0 913.5) scale(0.88 1)">56</text>
<text class="tk" style="letter-spacing:3.30px" text-anchor="middle" transform="translate(1480.0 913.5) scale(0.88 1)">70</text>
<text class="ti" x="1122.6" y="595.3" textLength="150.4" lengthAdjust="spacing">CSC2213-4R7M</text>
<text class="ax" style="word-spacing:-2px" x="1147.8" y="947.7" textLength="88.8" lengthAdjust="spacing">DC Bias(A)</text>
<text class="ax" style="word-spacing:-4.5px" transform="translate(852.4 831.8) rotate(-90)" textLength="136.2" lengthAdjust="spacing">Inductance (µH)</text>
<text class="ax" style="word-spacing:-2.5px" transform="translate(1538.5 855.3) rotate(-90)" textLength="172.0" lengthAdjust="spacing">Temperatur rise(°C)</text>
</g>
<g>
<path class="g" d="M143.5 1042.0V1315.0M256.5 1042.0V1315.0M371.5 1042.0V1315.0M484.5 1042.0V1315.0M597.5 1042.0V1315.0M711.5 1042.0V1315.0M143.0 1042.5H712.0M143.0 1081.5H712.0M143.0 1120.5H712.0M143.0 1159.5H712.0M143.0 1198.5H712.0M143.0 1236.5H712.0M143.0 1275.5H712.0M143.0 1314.5H712.0"/>
<clipPath id="cp5"><rect x="140.5" y="1039.5" width="574.0" height="278.0"/></clipPath>
<rect x="492.1" y="1247.2" width="213.8" height="62.3" fill="#dcdcdb"/>
<g clip-path="url(#cp5)">
<path class="s" stroke-width="3.6" stroke-dasharray="19.88 6.96" d="M143.3 1313.9 L147.2 1313.6 L151.0 1313.2 L154.9 1312.9 L158.8 1312.6 L162.6 1312.2 L166.5 1311.9 L170.4 1311.6 L174.2 1311.2 L178.1 1310.9 L181.9 1310.6 L185.8 1310.2 L189.7 1309.9 L193.5 1309.5 L197.4 1309.1 L201.3 1308.7 L205.3 1308.3 L209.2 1307.9 L213.1 1307.5 L217.1 1307.0 L221.0 1306.6 L224.9 1306.2 L228.9 1305.7 L232.8 1305.3 L236.7 1304.8 L240.7 1304.3 L244.6 1303.8 L248.5 1303.3 L252.5 1302.8 L256.4 1302.3 L260.3 1301.8 L264.2 1301.2 L268.1 1300.7 L272.0 1300.1 L275.9 1299.5 L279.8 1298.9 L283.8 1298.3 L287.7 1297.7 L291.6 1297.1 L295.5 1296.4 L299.4 1295.8 L303.3 1295.1 L307.2 1294.4 L311.1 1293.7 L314.9 1293.0 L318.8 1292.3 L322.7 1291.6 L326.5 1290.7 L330.4 1289.7 L333.7 1288.6 L337.0 1287.3 L340.2 1285.9 L343.5 1284.4 L346.8 1282.9 L350.1 1281.4 L353.3 1280.0 L356.6 1278.4 L359.8 1276.9 L363.1 1275.4 L366.4 1273.9 L369.7 1272.4 L372.9 1270.9 L376.2 1269.4 L379.5 1267.9 L383.1 1266.2 L386.8 1264.6 L390.4 1262.9 L394.0 1261.2 L397.7 1259.5 L401.3 1257.7 L405.1 1255.7 L409.0 1253.6 L412.9 1251.4 L416.7 1249.2 L420.5 1247.0 L424.4 1244.7 L428.0 1242.6 L431.5 1240.4 L435.1 1238.2 L438.7 1236.0 L442.3 1233.7 L445.9 1231.5 L449.4 1229.2 L453.0 1227.0 L456.9 1224.6 L460.7 1222.3 L464.6 1220.0 L468.5 1217.7 L472.3 1215.2 L476.2 1212.7 L479.8 1210.2 L483.5 1207.5 L487.1 1204.8 L490.7 1202.0 L494.4 1199.2 L498.0 1196.3 L501.8 1193.2 L505.6 1190.1 L509.4 1186.9 L513.1 1183.6 L516.9 1180.4 L520.7 1177.2 L524.5 1174.0 L528.1 1171.0 L531.8 1168.1 L535.4 1165.2 L539.0 1162.3 L542.7 1159.3 L546.3 1156.3 L550.1 1153.1 L553.9 1149.8 L557.8 1146.5 L561.6 1143.2 L565.4 1139.9 L569.2 1136.6 L573.1 1133.2 L577.0 1129.9 L580.8 1126.5 L584.6 1123.1 L588.5 1119.5 L592.3 1115.8 L596.1 1112.1 L600.0 1108.2 L603.8 1104.3 L607.6 1100.4 L611.3 1096.5 L615.0 1092.6 L618.7 1088.5 L622.4 1084.5 L626.1 1080.5 L629.8 1076.4 L633.5 1072.5 L637.3 1068.5 L641.1 1064.4 L645.0 1060.4 L648.8 1056.5 L652.6 1052.7 L655.9 1049.6 L659.1 1046.5 L662.4 1043.5 L665.6 1040.5"/>
<path class="s" stroke-width="4.2" d="M143.3 1047.6 L147.2 1048.1 L151.0 1048.6 L154.9 1049.1 L158.8 1049.6 L162.6 1050.1 L166.5 1050.6 L170.4 1051.0 L174.2 1051.5 L178.1 1052.0 L181.9 1052.5 L185.8 1053.0 L189.7 1053.5 L193.5 1054.0 L197.4 1054.5 L201.3 1055.0 L205.3 1055.5 L209.2 1056.0 L213.1 1056.4 L217.1 1056.9 L221.0 1057.4 L224.9 1057.9 L228.9 1058.3 L232.8 1058.8 L236.7 1059.3 L240.7 1059.8 L244.6 1060.4 L248.5 1060.9 L252.5 1061.5 L256.4 1062.1 L260.3 1062.7 L264.1 1063.4 L268.0 1064.1 L271.9 1064.8 L275.7 1065.5 L279.6 1066.3 L283.5 1067.1 L287.3 1067.9 L291.2 1068.7 L295.0 1069.5 L298.9 1070.3 L302.8 1071.2 L306.6 1072.0 L310.5 1072.8 L314.4 1073.6 L318.2 1074.4 L322.1 1075.2 L325.9 1076.0 L329.7 1076.7 L333.5 1077.5 L337.3 1078.2 L341.1 1079.0 L344.9 1079.7 L348.6 1080.5 L352.4 1081.3 L356.2 1082.0 L360.0 1082.8 L363.8 1083.5 L367.6 1084.3 L371.4 1085.0 L375.1 1085.7 L378.9 1086.4 L382.6 1087.1 L386.4 1087.8 L390.1 1088.5 L393.8 1089.2 L397.6 1089.9 L401.3 1090.6 L405.0 1091.3 L408.8 1092.1 L412.5 1092.8 L416.3 1093.6 L420.0 1094.4 L423.8 1095.3 L427.6 1096.2 L431.4 1097.1 L435.2 1098.1 L438.9 1099.1 L442.7 1100.1 L446.5 1101.1 L450.3 1102.1 L454.1 1103.2 L457.9 1104.2 L461.7 1105.3 L465.5 1106.3 L469.2 1107.3 L473.0 1108.3 L476.8 1109.2 L480.6 1110.1 L484.4 1111.0 L488.2 1111.8 L491.9 1112.6 L495.7 1113.4 L499.5 1114.2 L503.2 1115.0 L507.0 1115.7 L510.8 1116.5 L514.5 1117.2 L518.3 1117.9 L522.1 1118.6 L525.9 1119.3 L529.6 1120.0 L533.4 1120.7 L537.2 1121.5 L540.9 1122.2 L544.7 1122.9 L548.5 1123.6 L552.2 1124.3 L556.0 1125.1 L559.7 1125.8 L563.5 1126.5 L567.2 1127.2 L571.0 1127.9 L574.8 1128.6 L578.5 1129.3 L582.3 1130.0 L586.0 1130.7 L589.8 1131.4 L593.5 1132.1 L597.3 1132.8 L601.3 1133.5 L605.2 1134.3 L609.2 1135.0 L613.1 1135.7 L617.1 1136.5 L621.0 1137.2 L625.0 1137.9 L628.9 1138.6 L632.9 1139.4 L636.8 1140.1 L640.8 1140.8 L644.7 1141.5 L648.7 1142.2 L652.6 1142.9 L656.6 1143.6 L660.5 1144.3 L664.5 1145.0 L668.4 1145.6 L672.3 1146.3 L676.3 1147.0 L680.2 1147.6 L684.1 1148.3 L688.1 1149.0 L692.0 1149.6 L696.0 1150.3 L699.9 1151.0 L703.8 1151.7 L707.8 1152.3 L711.7 1153.0"/>
</g>
<path class="s" stroke-width="3.7" d="M514.6 1264.8H555.1"/>
<path class="s" stroke-width="2.6" d="M514.6 1292.3H533.3M540.2 1292.3H555.1"/>
<text class="lg" x="561.4" y="1271.1" textLength="115.3" lengthAdjust="spacing">Inductance(µH)</text>
<text class="lg" x="560.6" y="1300.2" textLength="102.5" lengthAdjust="spacing">Temp.rise(°C)</text>
<text class="tk" style="letter-spacing:1.93px" text-anchor="end" transform="translate(132.9 1048.9) scale(0.88 1)">7.0</text>
<text class="tk" style="letter-spacing:1.93px" text-anchor="end" transform="translate(132.9 1087.8) scale(0.88 1)">6.0</text>
<text class="tk" style="letter-spacing:1.93px" text-anchor="end" transform="translate(132.9 1126.4) scale(0.88 1)">5.0</text>
<text class="tk" style="letter-spacing:1.93px" text-anchor="end" transform="translate(132.9 1165.8) scale(0.88 1)">4.0</text>
<text class="tk" style="letter-spacing:1.93px" text-anchor="end" transform="translate(132.9 1204.8) scale(0.88 1)">3.0</text>
<text class="tk" style="letter-spacing:1.93px" text-anchor="end" transform="translate(132.9 1243.2) scale(0.88 1)">2.0</text>
<text class="tk" style="letter-spacing:1.93px" text-anchor="end" transform="translate(132.9 1282.2) scale(0.88 1)">1.0</text>
<text class="tk" style="letter-spacing:1.93px" text-anchor="end" transform="translate(132.9 1321.2) scale(0.88 1)">0.0</text>
<text class="tk" style="letter-spacing:2.27px" text-anchor="start" transform="translate(723.0 1048.4) scale(0.88 1)">100</text>
<text class="tk" style="letter-spacing:3.30px" text-anchor="start" transform="translate(723.0 1103.7) scale(0.88 1)">80</text>
<text class="tk" style="letter-spacing:3.30px" text-anchor="start" transform="translate(723.0 1158.5) scale(0.88 1)">60</text>
<text class="tk" style="letter-spacing:3.30px" text-anchor="start" transform="translate(723.0 1211.7) scale(0.88 1)">40</text>
<text class="tk" style="letter-spacing:3.30px" text-anchor="start" transform="translate(723.0 1266.5) scale(0.88 1)">20</text>
<text class="tk" style="letter-spacing:0.00px" text-anchor="start" transform="translate(723.0 1321.2) scale(0.88 1)">0</text>
<text class="tk" style="letter-spacing:0.00px" text-anchor="middle" transform="translate(143.5 1342.5) scale(0.88 1)">0</text>
<text class="tk" style="letter-spacing:3.30px" text-anchor="middle" transform="translate(257.9 1342.5) scale(0.88 1)">12</text>
<text class="tk" style="letter-spacing:3.30px" text-anchor="middle" transform="translate(372.9 1342.5) scale(0.88 1)">24</text>
<text class="tk" style="letter-spacing:3.30px" text-anchor="middle" transform="translate(485.9 1342.5) scale(0.88 1)">36</text>
<text class="tk" style="letter-spacing:3.30px" text-anchor="middle" transform="translate(599.0 1342.5) scale(0.88 1)">48</text>
<text class="tk" style="letter-spacing:3.30px" text-anchor="middle" transform="translate(713.0 1342.5) scale(0.88 1)">60</text>
<text class="ti" x="359.6" y="1029.9" textLength="149.3" lengthAdjust="spacing">CSC2213-6R8M</text>
<text class="ax" style="word-spacing:-2px" x="370.0" y="1378.9" textLength="88.8" lengthAdjust="spacing">DC Bias(A)</text>
<text class="ax" style="word-spacing:-4.5px" transform="translate(87.5 1259.9) rotate(-90)" textLength="134.8" lengthAdjust="spacing">Inductance (µH)</text>
<text class="ax" style="word-spacing:-2.5px" transform="translate(768.0 1283.1) rotate(-90)" textLength="170.3" lengthAdjust="spacing">Temperatur rise(°C)</text>
</g>
<g>
<path class="g" d="M905.5 1043.0V1325.0M1020.5 1043.0V1325.0M1134.5 1043.0V1325.0M1248.5 1043.0V1325.0M1363.5 1043.0V1325.0M1477.5 1043.0V1325.0M905.0 1043.5H1478.0M905.0 1089.5H1478.0M905.0 1136.5H1478.0M905.0 1183.5H1478.0M905.0 1230.5H1478.0M905.0 1277.5H1478.0M905.0 1324.5H1478.0"/>
<clipPath id="cp6"><rect x="902.5" y="1040.5" width="578.0" height="287.0"/></clipPath>
<rect x="1256.9" y="1255.0" width="214.8" height="64.4" fill="#dcdcdb"/>
<g clip-path="url(#cp6)">
<path class="s" stroke-width="3.6" stroke-dasharray="19.87 6.96" d="M905.4 1324.0 L909.2 1323.5 L913.0 1322.9 L916.8 1322.4 L920.6 1321.8 L924.4 1321.3 L928.2 1320.7 L932.0 1320.2 L935.8 1319.7 L939.6 1319.1 L943.4 1318.6 L947.2 1318.1 L951.0 1317.6 L954.8 1317.1 L958.6 1316.6 L962.4 1316.1 L966.3 1315.6 L970.1 1315.2 L974.0 1314.8 L977.9 1314.4 L981.7 1314.0 L985.6 1313.6 L989.5 1313.3 L993.3 1312.9 L997.2 1312.5 L1001.1 1312.1 L1004.9 1311.7 L1008.8 1311.3 L1012.7 1310.8 L1016.5 1310.3 L1020.4 1309.8 L1024.2 1309.3 L1027.9 1308.7 L1031.7 1308.2 L1035.4 1307.6 L1039.2 1307.0 L1042.9 1306.3 L1046.7 1305.7 L1050.4 1305.0 L1054.2 1304.2 L1057.9 1303.5 L1061.7 1302.6 L1065.4 1301.8 L1069.2 1300.9 L1072.9 1300.0 L1076.7 1299.0 L1080.6 1297.9 L1084.5 1296.6 L1088.4 1295.2 L1092.3 1293.6 L1096.2 1292.0 L1100.1 1290.2 L1104.0 1288.4 L1107.9 1286.6 L1111.7 1284.7 L1115.6 1282.5 L1119.4 1280.3 L1123.2 1277.9 L1127.0 1275.6 L1130.9 1273.2 L1134.7 1271.0 L1138.7 1268.8 L1142.6 1266.7 L1146.6 1264.6 L1150.5 1262.5 L1154.5 1260.4 L1158.4 1258.3 L1162.4 1256.0 L1166.3 1253.7 L1170.3 1251.2 L1174.2 1248.5 L1178.2 1245.4 L1182.1 1242.3 L1186.1 1239.2 L1190.0 1236.3 L1193.6 1233.8 L1197.3 1231.5 L1200.9 1229.2 L1204.5 1227.0 L1208.2 1224.8 L1211.8 1222.5 L1215.5 1220.1 L1219.1 1217.5 L1222.8 1214.7 L1226.5 1211.9 L1230.2 1208.9 L1233.8 1205.8 L1237.5 1202.6 L1241.2 1199.4 L1244.9 1196.2 L1248.6 1193.0 L1252.4 1189.7 L1256.2 1186.3 L1259.9 1183.0 L1263.7 1179.6 L1267.5 1176.1 L1271.3 1172.6 L1275.1 1169.1 L1278.9 1165.6 L1282.7 1162.1 L1286.4 1158.5 L1290.2 1155.0 L1294.0 1151.4 L1297.8 1147.8 L1301.5 1144.2 L1305.3 1140.6 L1309.1 1137.0 L1312.9 1133.4 L1316.6 1129.7 L1320.4 1126.0 L1324.2 1122.3 L1328.0 1118.6 L1331.7 1114.7 L1335.5 1110.9 L1339.0 1107.3 L1342.5 1103.7 L1346.0 1100.0 L1349.5 1096.3 L1353.1 1092.6 L1356.6 1088.7 L1360.1 1084.8 L1363.6 1080.7 L1367.1 1076.5 L1370.6 1072.1 L1374.1 1067.5 L1377.7 1062.9 L1381.2 1058.2 L1384.7 1053.5 L1388.2 1048.8 L1391.7 1044.2"/>
<path class="s" stroke-width="4.2" d="M905.4 1092.2 L909.2 1092.5 L913.0 1092.9 L916.8 1093.2 L920.6 1093.5 L924.4 1093.9 L928.2 1094.2 L932.0 1094.5 L935.8 1094.9 L939.6 1095.2 L943.4 1095.5 L947.2 1095.9 L951.0 1096.3 L954.8 1096.6 L958.6 1097.0 L962.4 1097.4 L966.3 1097.8 L970.1 1098.2 L974.0 1098.7 L977.9 1099.1 L981.7 1099.5 L985.6 1100.0 L989.5 1100.5 L993.3 1101.0 L997.2 1101.4 L1001.1 1101.9 L1004.9 1102.4 L1008.8 1103.0 L1012.7 1103.5 L1016.5 1104.0 L1020.4 1104.6 L1024.2 1105.2 L1027.9 1105.7 L1031.7 1106.3 L1035.4 1107.0 L1039.2 1107.6 L1042.9 1108.3 L1046.7 1108.9 L1050.4 1109.6 L1054.2 1110.3 L1057.9 1111.0 L1061.7 1111.7 L1065.4 1112.4 L1069.2 1113.1 L1072.9 1113.7 L1076.7 1114.4 L1080.6 1115.1 L1084.4 1115.8 L1088.3 1116.4 L1092.2 1117.1 L1096.0 1117.8 L1099.9 1118.5 L1103.8 1119.2 L1107.6 1119.9 L1111.5 1120.6 L1115.4 1121.3 L1119.2 1122.0 L1123.1 1122.7 L1127.0 1123.4 L1130.8 1124.1 L1134.7 1124.8 L1138.7 1125.5 L1142.6 1126.3 L1146.5 1127.0 L1150.5 1127.8 L1154.5 1128.6 L1158.4 1129.3 L1162.3 1130.1 L1166.3 1130.8 L1170.2 1131.6 L1174.2 1132.4 L1178.2 1133.1 L1182.1 1133.9 L1186.0 1134.7 L1190.0 1135.4 L1193.9 1136.1 L1197.8 1136.9 L1201.7 1137.6 L1205.6 1138.3 L1209.5 1139.0 L1213.4 1139.8 L1217.3 1140.5 L1221.3 1141.2 L1225.2 1141.9 L1229.1 1142.6 L1233.0 1143.3 L1236.9 1144.1 L1240.8 1144.8 L1244.7 1145.5 L1248.6 1146.2 L1252.4 1146.9 L1256.2 1147.6 L1259.9 1148.3 L1263.7 1149.0 L1267.5 1149.7 L1271.3 1150.4 L1275.1 1151.1 L1278.9 1151.8 L1282.7 1152.5 L1286.4 1153.1 L1290.2 1153.8 L1294.0 1154.5 L1297.9 1155.2 L1301.7 1155.9 L1305.6 1156.6 L1309.5 1157.2 L1313.3 1157.9 L1317.2 1158.6 L1321.1 1159.3 L1324.9 1159.9 L1328.8 1160.6 L1332.7 1161.3 L1336.5 1161.9 L1340.4 1162.6 L1344.3 1163.2 L1348.1 1163.9 L1352.0 1164.5 L1355.9 1165.2 L1359.7 1165.8 L1363.6 1166.4 L1367.5 1167.0 L1371.5 1167.6 L1375.4 1168.3 L1379.3 1168.9 L1383.3 1169.5 L1387.2 1170.1 L1391.2 1170.7 L1395.1 1171.3 L1399.0 1171.9 L1403.0 1172.4 L1406.9 1173.0 L1410.8 1173.6 L1414.8 1174.1 L1418.7 1174.7 L1422.6 1175.3 L1426.6 1175.8 L1430.5 1176.3 L1434.5 1176.9 L1438.4 1177.4 L1442.4 1177.9 L1446.3 1178.5 L1450.3 1179.0 L1454.2 1179.5 L1458.2 1180.0 L1462.1 1180.5 L1466.1 1181.0 L1470.0 1181.6 L1474.0 1182.1 L1477.9 1182.6"/>
</g>
<path class="s" stroke-width="3.7" d="M1279.0 1273.0H1320.0"/>
<path class="s" stroke-width="3.5" d="M1279.0 1301.7H1298.5M1305.5 1301.7H1321.0"/>
<text class="lg" x="1325.6" y="1278.7" textLength="115.3" lengthAdjust="spacing">Inductance(µH)</text>
<text class="lg" x="1324.8" y="1307.8" textLength="102.5" lengthAdjust="spacing">Temp.rise(°C)</text>
<text class="tk" style="letter-spacing:1.93px" text-anchor="end" transform="translate(893.4 1050.8) scale(0.88 1)">12.0</text>
<text class="tk" style="letter-spacing:1.93px" text-anchor="end" transform="translate(893.4 1098.1) scale(0.88 1)">10.0</text>
<text class="tk" style="letter-spacing:1.93px" text-anchor="end" transform="translate(893.4 1145.1) scale(0.88 1)">8.0</text>
<text class="tk" style="letter-spacing:1.93px" text-anchor="end" transform="translate(893.4 1191.9) scale(0.88 1)">6.0</text>
<text class="tk" style="letter-spacing:1.93px" text-anchor="end" transform="translate(893.4 1238.2) scale(0.88 1)">4.0</text>
<text class="tk" style="letter-spacing:1.93px" text-anchor="end" transform="translate(893.4 1284.8) scale(0.88 1)">2.0</text>
<text class="tk" style="letter-spacing:1.93px" text-anchor="end" transform="translate(893.4 1331.1) scale(0.88 1)">0.0</text>
<text class="tk" style="letter-spacing:2.27px" text-anchor="start" transform="translate(1491.4 1050.8) scale(0.88 1)">100</text>
<text class="tk" style="letter-spacing:3.30px" text-anchor="start" transform="translate(1491.4 1105.6) scale(0.88 1)">80</text>
<text class="tk" style="letter-spacing:3.30px" text-anchor="start" transform="translate(1491.4 1163.9) scale(0.88 1)">60</text>
<text class="tk" style="letter-spacing:3.30px" text-anchor="start" transform="translate(1491.4 1218.7) scale(0.88 1)">40</text>
<text class="tk" style="letter-spacing:3.30px" text-anchor="start" transform="translate(1491.4 1274.8) scale(0.88 1)">20</text>
<text class="tk" style="letter-spacing:0.00px" text-anchor="start" transform="translate(1491.4 1331.1) scale(0.88 1)">0</text>
<text class="tk" style="letter-spacing:0.00px" text-anchor="middle" transform="translate(905.5 1352.8) scale(0.88 1)">0</text>
<text class="tk" style="letter-spacing:3.30px" text-anchor="middle" transform="translate(1022.0 1352.8) scale(0.88 1)">10</text>
<text class="tk" style="letter-spacing:3.30px" text-anchor="middle" transform="translate(1136.0 1352.8) scale(0.88 1)">20</text>
<text class="tk" style="letter-spacing:3.30px" text-anchor="middle" transform="translate(1250.0 1352.8) scale(0.88 1)">30</text>
<text class="tk" style="letter-spacing:3.30px" text-anchor="middle" transform="translate(1365.0 1352.8) scale(0.88 1)">40</text>
<text class="tk" style="letter-spacing:3.30px" text-anchor="middle" transform="translate(1479.0 1352.8) scale(0.88 1)">50</text>
<text class="ti" x="1122.6" y="1031.1" textLength="150.4" lengthAdjust="spacing">CSC2213-100M</text>
<text class="ax" style="word-spacing:-2px" x="1147.8" y="1378.9" textLength="88.8" lengthAdjust="spacing">DC Bias(A)</text>
<text class="ax" style="word-spacing:-4.5px" transform="translate(852.4 1258.4) rotate(-90)" textLength="135.7" lengthAdjust="spacing">Inductance (µH)</text>
<text class="ax" style="word-spacing:-2.5px" transform="translate(1538.5 1281.9) rotate(-90)" textLength="171.5" lengthAdjust="spacing">Temperatur rise(°C)</text>
</g>
</svg></body></html>
